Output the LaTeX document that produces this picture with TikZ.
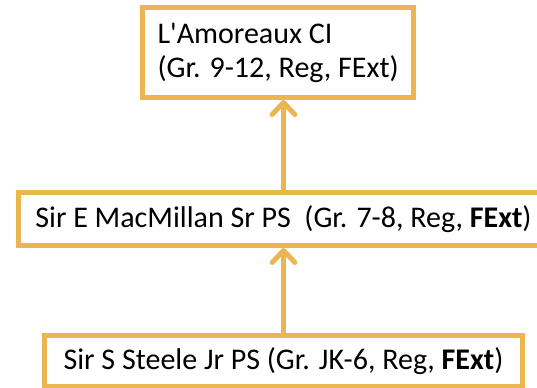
\documentclass[tikz,border=0pt]{standalone}
\usepackage{fontspec}
\setmainfont{Carlito}[Ligatures=TeXOff]
\usetikzlibrary{positioning, arrows.meta}
\definecolor{gold}{HTML}{E9B64F}
\tikzset{
x=0.75pt, y=-0.75pt, % one unit is one pixel of the reference
school/.style={draw=gold, line width=3.75pt, fill=white, inner sep=0pt, font=\fontsize{22.5}{25.5}\selectfont}, % every school box
link/.style={draw=gold, line width=3.75pt, -{Straight Barb[length=9pt,width=17pt,round]}}, % the arrows between the boxes
}

\begin{document}
\begin{tikzpicture}
        \useasboundingbox (0,0) rectangle (537,388);

        \node[school, minimum width=358.5pt, minimum height=38.25pt] (steele) at (283.5,361) {Sir S Steele Jr PS (Gr. JK-6, Reg, \textbf{FExt})};
        \node[school, minimum width=398.25pt, minimum height=39.75pt, above=63.75pt of steele] (macm) {Sir E MacMillan Sr PS\ \ (Gr. 7-8, Reg, \textbf{FExt})};
        \node[school, align=left, inner xsep=11pt, minimum height=67.5pt, above=67.5pt of macm, xshift=-4pt] (lamo) {L'Amoreaux CI\\(Gr. 9-12, Reg, FExt)};

        \draw[link] (steele.north) -- (steele.north |- macm.south);
        \draw[link] (steele.north |- macm.north) -- (steele.north |- lamo.south);
\end{tikzpicture}
\end{document}
